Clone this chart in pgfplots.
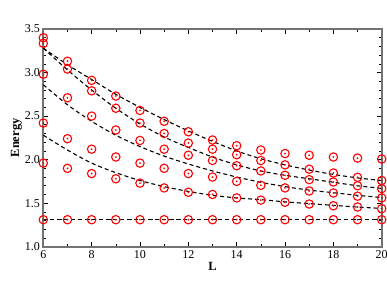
\documentclass[border=0pt]{standalone}
\usepackage{fontspec}
\setmainfont{Liberation Serif}
\usepackage{pgfplots}
\usepackage{pgfplotstable}
\pgfplotsset{compat=1.18}
\pgfdeclareplotmark{cdot}{%
  \pgfpathcircle{\pgfpointorigin}{\pgfplotmarksize}\pgfusepathqstroke
  \pgfpathcircle{\pgfpointorigin}{1pt}\pgfusepathqfill}
\pgfplotstableread{
L s1 s2 s3 s4 s5 s6
6 3.40 3.335 2.98 2.42 1.96 1.31
7 3.13 3.04 2.71 2.24 1.90 1.31
8 2.91 2.79 2.50 2.12 1.84 1.31
9 2.73 2.59 2.34 2.03 1.78 1.31
10 2.565 2.42 2.22 1.96 1.73 1.31
11 2.44 2.30 2.12 1.90 1.675 1.31
12 2.32 2.19 2.05 1.84 1.625 1.31
13 2.225 2.12 1.99 1.80 1.60 1.31
14 2.16 2.056 1.93 1.75 1.56 1.31
15 2.11 1.99 1.87 1.705 1.535 1.31
16 2.07 1.94 1.82 1.675 1.51 1.31
17 2.05 1.89 1.77 1.64 1.49 1.31
18 2.03 1.846 1.743 1.617 1.47 1.31
19 2.018 1.797 1.70 1.58 1.456 1.31
20 2.007 1.76 1.667 1.56 1.437 1.31
}\points
\pgfplotstableread{
L c1 c2 c3 c4 c5
6 3.28 3.28 2.86 2.28 1.31
7 3.09 3.03 2.63 2.11 1.31
8 2.92 2.80 2.44 1.96 1.31
9 2.75 2.59 2.28 1.85 1.31
10 2.60 2.41 2.15 1.76 1.31
11 2.46 2.26 2.04 1.69 1.31
12 2.33 2.14 1.95 1.635 1.31
13 2.21 2.03 1.87 1.59 1.31
14 2.10 1.94 1.80 1.56 1.31
15 2.01 1.87 1.74 1.54 1.31
16 1.94 1.82 1.69 1.515 1.31
17 1.88 1.78 1.65 1.495 1.31
18 1.83 1.74 1.62 1.475 1.31
19 1.79 1.70 1.59 1.455 1.31
20 1.76 1.67 1.565 1.44 1.31
}\curves
\begin{document}
\begin{tikzpicture}
\begin{axis}[
  scale only axis, width=338.4pt, height=217.7pt,
  xmin=6, xmax=20, ymin=1, ymax=3.5,
  xtick={6,8,...,20}, minor x tick num=1,
  ytick={1,1.5,...,3.5}, minor y tick num=4,
  major tick length=5pt, minor tick length=3pt,
  every tick/.style={black, line width=0.6pt},
  axis line style={draw=gray!90!black, line width=1.6pt},
  tick label style={font=\fontsize{12}{14}\selectfont},
  /pgf/number format/assume math mode=true,
  yticklabel style={/pgf/number format/.cd, fixed, fixed zerofill, precision=1},
  xlabel={\textbf{L}}, ylabel={\textbf{Energy}},
  xlabel shift=-3pt, ylabel shift=-4pt,
  label style={font=\fontsize{12.5}{14}\selectfont},
  clip=false,
]
\foreach \c in {c1,c2,c3,c4,c5}{
  \addplot[black, line width=1.1pt, dash pattern=on 4pt off 3pt, smooth] table[x=L, y=\c] {\curves};
}
\foreach \s in {s1,s2,s3,s4,s5,s6}{
  \addplot[only marks, mark=cdot, mark size=4.2pt, red, line width=1.1pt] table[x=L, y=\s] {\points};
}
\end{axis}
\pgfresetboundingbox
\path[use as bounding box] ([shift={(-43.3pt,-52.3pt)}]current axis.south west) rectangle ++(387pt,299pt);
\end{tikzpicture}
\end{document}
